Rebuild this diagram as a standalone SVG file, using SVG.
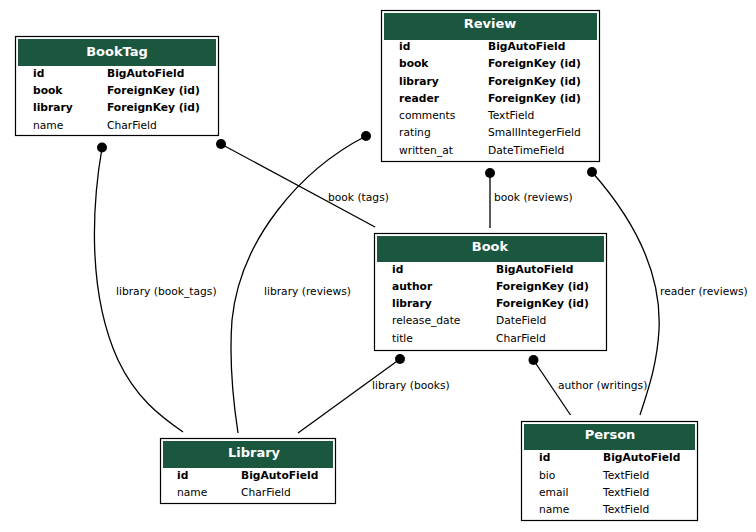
<svg xmlns="http://www.w3.org/2000/svg" width="756" height="532" viewBox="0 0 756 532">
<style>
.box{fill:#fff;stroke:#000;stroke-width:1.2}
.hd{fill:#1b563f}
.ht{font-family:"DejaVu Sans",sans-serif;font-size:13px;font-weight:bold;fill:#fff;text-anchor:middle}
.f{font-family:"DejaVu Sans",sans-serif;font-size:10.7px;fill:#000}
.b{font-weight:bold}
.e{fill:none;stroke:#000;stroke-width:1.3}
.dot{fill:#000}
.lb{font-family:"DejaVu Sans",sans-serif;font-size:10.7px;fill:#000}
</style>
<rect width="756" height="532" fill="#fff"/>
<g id="connectors">
<path class="e" d="M102,148 C93,200 86,290 118,360 C136,398 160,416 183,432"/>
<circle class="dot" cx="102" cy="147.5" r="5"/>
<text class="lb" x="116" y="295">library (book_tags)</text>
<path class="e" d="M221,144 L375,227"/>
<circle class="dot" cx="221" cy="144" r="5"/>
<text class="lb" x="328" y="201">book (tags)</text>
<path class="e" d="M366,136 C300,170 240,240 232,320 C229,360 233,400 238,433"/>
<circle class="dot" cx="366" cy="136" r="5"/>
<text class="lb" x="264" y="295">library (reviews)</text>
<path class="e" d="M490,173 L490,228"/>
<circle class="dot" cx="490" cy="173" r="5"/>
<text class="lb" x="494" y="201">book (reviews)</text>
<path class="e" d="M592,172 C630,215 662,270 659,330 C657,365 648,390 640,415"/>
<circle class="dot" cx="592" cy="172" r="5"/>
<text class="lb" x="660" y="295">reader (reviews)</text>
<path class="e" d="M400,359 L298,433"/>
<circle class="dot" cx="400" cy="359" r="5"/>
<text class="lb" x="372" y="389">library (books)</text>
<path class="e" d="M533.5,360 L570.5,415"/>
<circle class="dot" cx="533.5" cy="360" r="5"/>
<text class="lb" x="558" y="389">author (writings)</text>
</g>
<g id="BookTag">
<rect class="box" x="15.5" y="36.5" width="203" height="99"/>
<rect class="hd" x="18" y="39" width="198" height="27"/>
<text class="ht" x="117" y="56">BookTag</text>
<text class="f b" x="33" y="77">id</text><text class="f b" x="107" y="77">BigAutoField</text>
<text class="f b" x="33" y="94">book</text><text class="f b" x="107" y="94">ForeignKey (id)</text>
<text class="f b" x="33" y="111">library</text><text class="f b" x="107" y="111">ForeignKey (id)</text>
<text class="f" x="33" y="129">name</text><text class="f" x="107" y="129">CharField</text>
</g>
<g id="Review">
<rect class="box" x="381.5" y="10.5" width="218" height="151"/>
<rect class="hd" x="384" y="13" width="213" height="27"/>
<text class="ht" x="490" y="28">Review</text>
<text class="f b" x="399" y="50">id</text><text class="f b" x="488" y="50">BigAutoField</text>
<text class="f b" x="399" y="67">book</text><text class="f b" x="488" y="67">ForeignKey (id)</text>
<text class="f b" x="399" y="85">library</text><text class="f b" x="488" y="85">ForeignKey (id)</text>
<text class="f b" x="399" y="102">reader</text><text class="f b" x="488" y="102">ForeignKey (id)</text>
<text class="f" x="399" y="119">comments</text><text class="f" x="488" y="119">TextField</text>
<text class="f" x="399" y="136">rating</text><text class="f" x="488" y="136">SmallIntegerField</text>
<text class="f" x="399" y="154">written_at</text><text class="f" x="488" y="154">DateTimeField</text>
</g>
<g id="Book">
<rect class="box" x="374.5" y="233.5" width="232" height="117"/>
<rect class="hd" x="377" y="236" width="227" height="26"/>
<text class="ht" x="490" y="251">Book</text>
<text class="f b" x="392" y="273">id</text><text class="f b" x="496" y="273">BigAutoField</text>
<text class="f b" x="392" y="290">author</text><text class="f b" x="496" y="290">ForeignKey (id)</text>
<text class="f b" x="392" y="307">library</text><text class="f b" x="496" y="307">ForeignKey (id)</text>
<text class="f" x="392" y="324">release_date</text><text class="f" x="496" y="324">DateField</text>
<text class="f" x="392" y="342">title</text><text class="f" x="496" y="342">CharField</text>
</g>
<g id="Library">
<rect class="box" x="160.5" y="438.5" width="175" height="65"/>
<rect class="hd" x="163" y="441" width="170" height="27"/>
<text class="ht" x="254" y="457">Library</text>
<text class="f b" x="177" y="479">id</text><text class="f b" x="241" y="479">BigAutoField</text>
<text class="f" x="177" y="496">name</text><text class="f" x="241" y="496">CharField</text>
</g>
<g id="Person">
<rect class="box" x="521.5" y="421.5" width="176" height="99"/>
<rect class="hd" x="524" y="424" width="171" height="26"/>
<text class="ht" x="610" y="439">Person</text>
<text class="f b" x="539" y="461">id</text><text class="f b" x="603" y="461">BigAutoField</text>
<text class="f" x="539" y="479">bio</text><text class="f" x="603" y="479">TextField</text>
<text class="f" x="539" y="496">email</text><text class="f" x="603" y="496">TextField</text>
<text class="f" x="539" y="513">name</text><text class="f" x="603" y="513">TextField</text>
</g>
</svg>
